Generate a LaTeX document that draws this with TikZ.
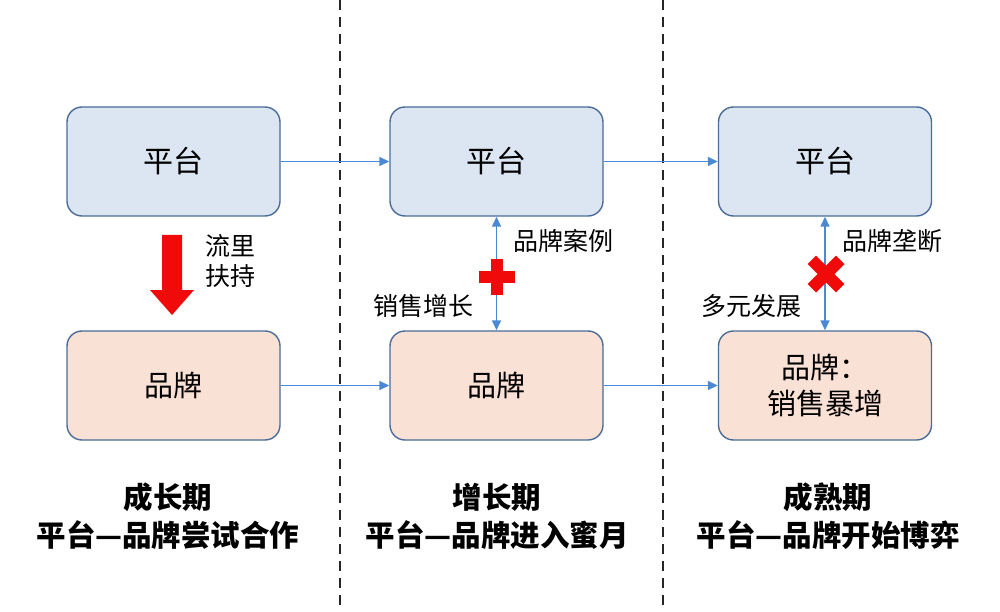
\documentclass[tikz,border=0pt]{standalone}
\usepackage{fontspec}
\setmainfont{Noto Sans CJK SC}
\usetikzlibrary{arrows.meta}
\definecolor{topfill}{HTML}{DCE6F2}
\definecolor{botfill}{HTML}{FAE1D5}
\definecolor{boxline}{HTML}{4A6C98}
\definecolor{arrowblue}{HTML}{4A8AD4}
\definecolor{redmark}{HTML}{F00A0A}
\tikzset{
  topbox/.style={draw=boxline, line width=1.4pt, fill=topfill, rounded corners=15pt, minimum width=213pt, minimum height=109pt, inner sep=0pt, font=\fontsize{30}{34}\selectfont},
  botbox/.style={draw=boxline, line width=1.4pt, fill=botfill, rounded corners=15pt, minimum width=213pt, minimum height=109pt, inner sep=0pt, font=\fontsize{29}{36}\selectfont, align=center},
  flow/.style={draw=arrowblue, line width=1.4pt, -{Triangle[length=10pt,width=9pt]}},
  dflow/.style={draw=arrowblue, line width=1.4pt, {Triangle[length=10pt,width=9pt]}-{Triangle[length=10pt,width=9pt]}},
  lbl/.style={font=\fontsize{25}{30}\selectfont, inner sep=0pt, align=left},
  title/.style={font=\bfseries\fontsize{29.5}{38}\selectfont, align=center, inner sep=0pt},
  divider/.style={draw=black!85, line width=1.8pt, dash pattern=on 10pt off 7pt}
}
\begin{document}
\begin{tikzpicture}[x=1pt,y=-1pt]
\useasboundingbox[fill=white] (0,0) rectangle (1000,612);
\coordinate (d1t) at (340,0); \coordinate (d1b) at (340,612);
\coordinate (d2t) at (663,0); \coordinate (d2b) at (663,612);
\draw[divider] (d1t) -- (d1b);
\draw[divider] (d2t) -- (d2b);

\node[topbox] (p1) at (173.5,161.5) {平台};
\node[topbox] (p2) at (496.5,161.5) {平台};
\node[topbox] (p3) at (825,161.5) {平台};
\node[botbox] (b1) at (173.5,385.5) {品牌};
\node[botbox] (b2) at (496.5,385.5) {品牌};
\node[botbox] (b3) at (825,385.5) {品牌：\\销售暴增};

\draw[flow] (p1) -- (p2);
\draw[flow] (p2) -- (p3);
\draw[flow] (b1) -- (b2);
\draw[flow] (b2) -- (b3);
\draw[dflow] (p2.south) -- (b2.north);
\draw[dflow] (p3.south) -- (b3.north);

% red down arrow
\fill[redmark] (162,235) -- (182,235) -- (182,290) -- (194,290) -- (172,315) -- (150,290) -- (162,290) -- cycle;
\node[lbl, anchor=north west] (flowlbl) at (205,234) {流里\\扶持};

% plus sign
\fill[redmark] (491,259) rectangle (503,295);
\fill[redmark] (479,271) rectangle (515,283);
% cross
\fill[redmark, rotate around={45:(826,274)}] (820,254) rectangle (832,294);
\fill[redmark, rotate around={45:(826,274)}] (806,268) rectangle (846,280);

\node[lbl, anchor=west] (l1) at (513,241) {品牌案例};
\node[lbl, anchor=east] (l2) at (474,306) {销售增长};
\node[lbl, anchor=west] (l3) at (842,241) {品牌垄断};
\node[lbl, anchor=east] (l4) at (802,306) {多元发展};

\node[title] (t1) at (168,516) {成长期\\平台—品牌尝试合作};
\node[title] (t2) at (497,516) {增长期\\平台—品牌进入蜜月};
\node[title] (t3) at (828,516) {成熟期\\平台—品牌开始博弈};
\end{tikzpicture}
\end{document}
